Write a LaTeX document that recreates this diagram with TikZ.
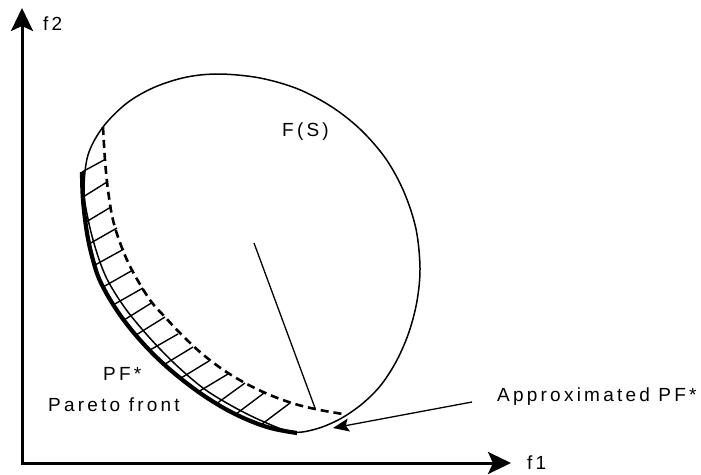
\documentclass[tikz,border=0pt]{standalone}
\usepackage{fontspec}
\newfontfamily\lblfont[LetterSpace=17]{Liberation Sans}
\usetikzlibrary{arrows.meta}

\begin{document}
\begin{tikzpicture}[x=1pt, y=-1pt,
    lbl/.style={font=\lblfont\fontsize{19}{21}\selectfont, inner sep=0pt},
    axis/.style={line width=3pt, line join=miter,
      {Stealth[length=23pt, width=22pt, inset=5pt]}-{Stealth[length=23pt, width=22pt, inset=5pt]}},
    outline/.style={line width=1.5pt},
    front/.style={line width=4.2pt},
    approx/.style={line width=2.6pt, dash pattern=on 8pt off 5pt},
    hatch/.style={line width=1.4pt},
    ptr/.style={line width=1.3pt, -{Stealth[length=16pt, width=13pt, inset=3pt]}}
]
\useasboundingbox (0,0) rectangle (701,474);

% axes
\coordinate (O) at (22,463);
\coordinate (f2tip) at (22,8);
\coordinate (f1tip) at (511,463);
\draw[axis] (f2tip) -- (O) -- (f1tip);
\node[lbl, anchor=base west] (f2lbl) at (43,30) {f2};
\node[lbl, anchor=base west] (f1lbl) at (527,469) {f1};

% hatching between the fronts
\foreach \xa/\ya/\xb/\yb in {82/172/104/160, 83/197/107/182, 86/222/111/207,
    89/244/117/228, 95/265/124/249, 103/287/133/270, 113/305/143/288,
    124/320/153/302, 136/335/165/317, 150/350/178/334, 165/364/193/347,
    181/378/209/361, 198/392/228/374, 216/404/245/383, 236/414/264/393,
    262/424/290/403}
  \draw[hatch] (\xa,\ya) -- (\xb,\yb);

% feasible set F(S)
\draw[outline] plot[smooth cycle, tension=0.55] coordinates {
    (220,74) (260,78) (298,89) (332,107) (361,130) (386,159) (404,192)
    (416,229) (420,268) (417,301) (409,332) (397,360) (381,385) (362,404)
    (340,419) (316,429) (292,432) (262,421) (232,406) (203,388) (174,363)
    (148,336) (125,308) (107,279) (96,250) (88,219) (84,190) (88,155)
    (103,127) (127,103) (155,87) (187,77)};
\node[lbl, anchor=base west] (fs) at (282,136) {F(S)};

% approximated front
\draw[approx] plot[smooth, tension=0.6] coordinates {
    (103,127) (105,160) (108,190) (113,220) (122,248) (133,272) (150,300)
    (165,317) (180,333) (200,352) (222,369) (245,383) (270,395) (295,404)
    (320,410) (343,414)};

% Pareto front
\draw[front] plot[smooth, tension=0.6] coordinates {
    (82,172) (83,200) (87,233) (93,260) (101,283) (118,312) (140,340)
    (167,367) (200,393) (233,413) (267,427) (297,433)};
\node[lbl, anchor=base west] (pf) at (103,380) {PF*};
\node[lbl, anchor=base west] (pfname) at (48,411) {Pareto front};

\coordinate (lineA) at (254,243);
\coordinate (lineB) at (315,408);
\draw[outline, line width=1.3pt] (lineA) -- (lineB);

\node[lbl, anchor=base west] (apx) at (497,401) {Approximated PF*};
\coordinate (apxTail) at (472,402);
\coordinate (apxTip) at (333,428);
\draw[ptr] (apxTail) -- (apxTip);
\end{tikzpicture}
\end{document}
